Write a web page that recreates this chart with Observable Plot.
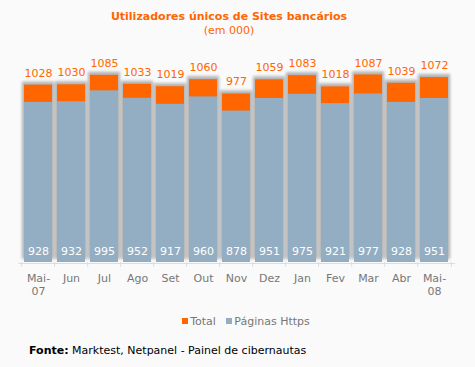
<!DOCTYPE html>
<html><head><meta charset="utf-8">
<script src="https://cdn.jsdelivr.net/npm/d3@7"></script>
<script src="https://cdn.jsdelivr.net/npm/@observablehq/plot@0.6"></script>
<style>
body{margin:0;background:#fafafa;font-family:"DejaVu Sans",Verdana,sans-serif;width:475px;height:367px;position:relative;overflow:hidden}
#title{position:absolute;left:0;width:458px;top:10px;text-align:center;color:#ff6600;font-weight:bold;font-size:11px;line-height:14px}
#sub{position:absolute;left:0;width:458px;top:24px;text-align:center;color:#ff6600;font-size:11px;line-height:14px}
#chart{position:absolute;left:0;top:40px}
#legend{position:absolute;left:0;width:492px;top:315px;text-align:center;color:#777;font-size:11px;line-height:14px}
#legend span.sw{display:inline-block;width:6px;height:6px;margin-right:2px;vertical-align:1px}
#foot{position:absolute;left:29px;top:344px;color:#000;font-size:11px;line-height:14px}
</style></head><body>
<div id="title">Utilizadores únicos de Sites bancários</div>
<div id="sub">(em 000)</div>
<div id="chart"></div>
<div id="legend"><span class="sw" style="background:#ff6600"></span>Total&nbsp;&nbsp; <span class="sw" style="background:#93adc2"></span>Páginas Https</div>
<div id="foot"><b>Fonte:</b> Marktest, Netpanel - Painel de cibernautas</div>
<script>
const months = ["Mai-\n07","Jun","Jul","Ago","Set","Out","Nov","Dez","Jan","Fev","Mar","Abr","Mai-\n08"];
const totals = [1028,1030,1085,1033,1019,1060,977,1059,1083,1018,1087,1039,1072];
const https = [928,932,995,952,917,960,878,951,975,921,977,928,951];

const data = months.map((m,i)=>({month:m,total:totals[i],https:https[i]}));
const W = 475, ML = 18, MR = 20;
const step = (W - ML - MR) / months.length;

const plot = Plot.plot({
  width: W, height: 270,
  marginLeft: ML, marginRight: MR, marginTop: 15, marginBottom: 48,
  style: {background: "transparent", fontFamily: "'DejaVu Sans', Verdana, sans-serif", fontSize: "11px"},
  x: {type: "band", domain: months, paddingInner: 0.15, paddingOuter: 0.075},
  y: {domain: [0, 1200], axis: null},
  marks: [
    Plot.barY(data, {x: "month", y: "total", fill: "#777", dy: -3, insetLeft: -2, insetRight: -2}),
    Plot.barY(data, {x: "month", y: "total", fill: "#ff6600"}),
    Plot.barY(data, {x: "month", y: "https", fill: "#93adc2"}),
    Plot.text(data, {x: "month", y: "total", text: d => String(d.total), fill: "#ff6600", dy: -12, fontSize: 11}),
    Plot.text(data, {x: "month", y: () => 0, text: d => String(d.https), fill: "#fff", dy: -11, fontSize: 11}),
    Plot.ruleY([0], {stroke: "#ddd", dy: 1}),
    Plot.ruleX(data, {x: "month", y1: () => 0, y2: () => 0, dx: -step/2, insetBottom: -5, stroke: "#ddd"}),
    Plot.ruleX(data.slice(-1), {x: "month", y1: () => 0, y2: () => 0, dx: step/2, insetBottom: -5, stroke: "#ddd"}),
    Plot.axisX({tickSize: 0, tickPadding: 11, fill: "#777", fontSize: 11, label: null, lineHeight: 1.15}),
  ]
});
const svg = d3.select(plot);
const defs = svg.insert("defs", ":first-child");
defs.append("filter").attr("id","shblur").attr("x","-30%").attr("y","-30%").attr("width","160%").attr("height","160%")
  .append("feGaussianBlur").attr("stdDeviation", 1.6);
const firstBars = plot.querySelector("g[aria-label='bar']");
if (firstBars) { firstBars.setAttribute("filter","url(#shblur)"); firstBars.setAttribute("opacity","0.55"); }
document.getElementById("chart").appendChild(plot);
</script>
</body></html>
